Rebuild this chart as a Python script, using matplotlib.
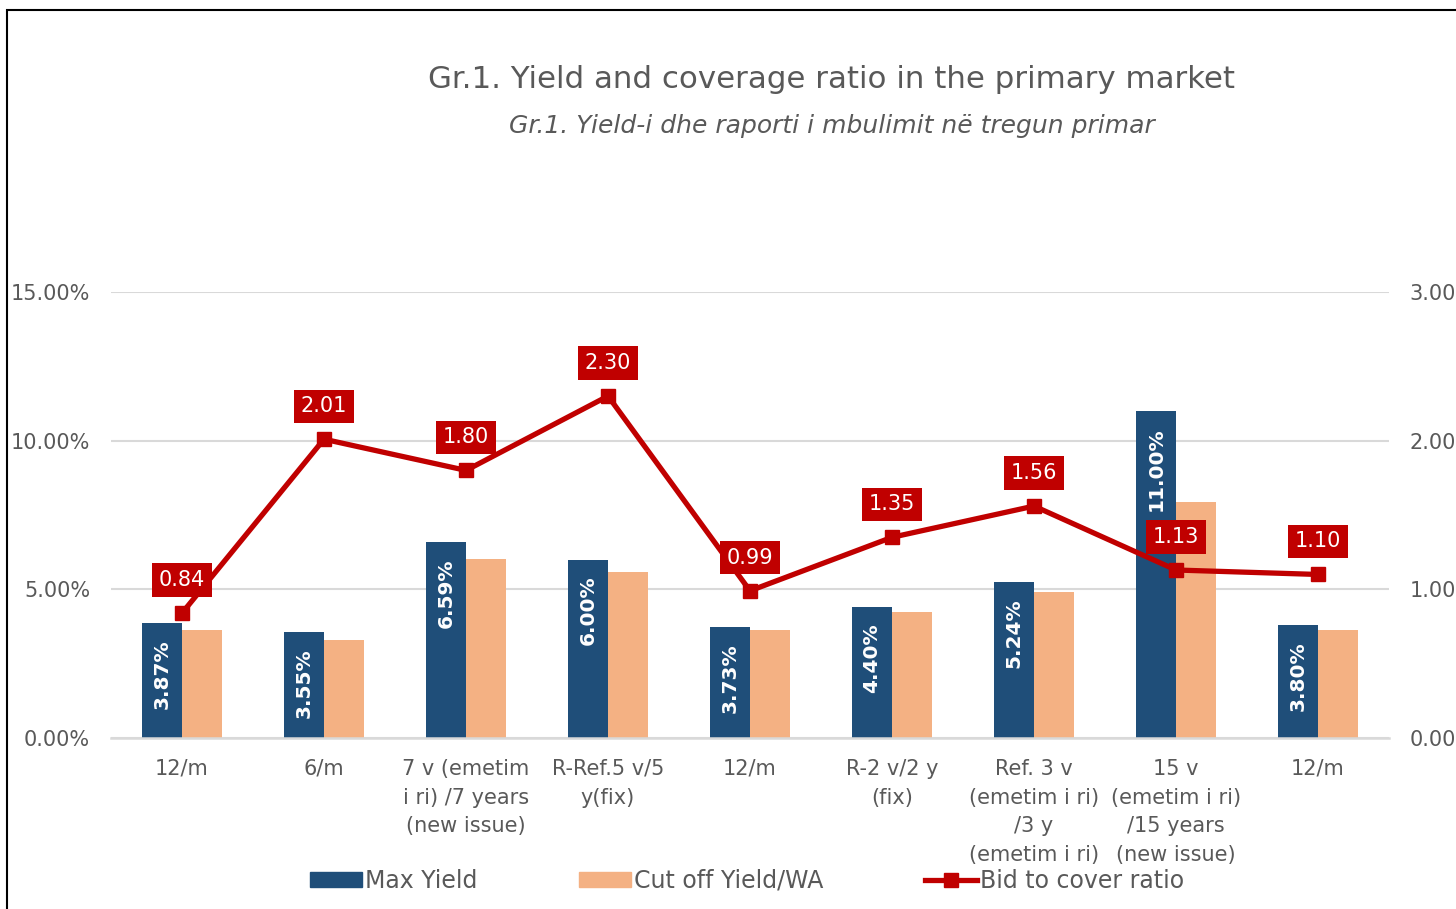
import numpy as np
import matplotlib
matplotlib.use('Agg')
import matplotlib.pyplot as plt
from matplotlib.patches import Rectangle, Patch
from matplotlib.lines import Line2D
from matplotlib.ticker import FuncFormatter

plt.rcParams['font.family'] = ['DejaVu Sans']

# data
categories = ['12/m', '6/m', '7 v (emetim\ni ri) /7 years\n(new issue)', 'R-Ref.5 v/5\ny(fix)',
              '12/m', 'R-2 v/2 y\n(fix)', 'Ref. 3 v\n(emetim i ri)\n/3 y\n(emetim i ri)',
              '15 v\n(emetim i ri)\n/15 years\n(new issue)', '12/m']
max_yield = [3.87, 3.55, 6.59, 6.00, 3.73, 4.40, 5.24, 11.00, 3.80]
cutoff_yield = [3.63, 3.30, 6.02, 5.58, 3.63, 4.24, 4.91, 7.94, 3.63]
bid_to_cover = [0.84, 2.01, 1.80, 2.30, 0.99, 1.35, 1.56, 1.13, 1.10]

blue = '#1F4E79'
orange = '#F4B183'
red = '#C00000'
gray = '#595959'

W, H = 1456, 909
fig = plt.figure(figsize=(W / 100, H / 100), dpi=100)
ax = fig.add_axes([111 / W, 1 - 738 / H, (1389 - 111) / W, (738 - 292) / H])

x = np.arange(len(categories))
w = 0.282
bars = ax.bar(x - w / 2, max_yield, w, color=blue, zorder=2)
ax.bar(x + w / 2, cutoff_yield, w, color=orange, zorder=2)

for b, v in zip(bars, max_yield):
    ax.annotate(f'{v:.2f}%', (b.get_x() + b.get_width() / 2, v), xytext=(0, -16),
                textcoords='offset pixels', rotation=90, ha='center', va='top',
                color='white', fontsize=14.5, fontweight='bold', zorder=3)

ax.set_xlim(-0.5, len(categories) - 0.5)
ax.set_ylim(0, 15)
ax.set_yticks([0, 5, 10, 15])
ax.yaxis.set_major_formatter(FuncFormatter(lambda v, p: f'{v:.2f}%'))
ax.grid(axis='y', color='#D9D9D9', lw=1.5, zorder=0)
ax.set_xticks(x)
ax.set_xticklabels(categories, linespacing=1.55)
for s in ['top', 'left', 'right']:
    ax.spines[s].set_visible(False)
ax.spines['bottom'].set_color('#D9D9D9')
ax.spines['bottom'].set_linewidth(1.8)
ax.tick_params(axis='both', length=0, colors=gray, labelsize=15)
ax.tick_params(axis='y', pad=15)
ax.tick_params(axis='x', pad=15)

ax2 = ax.twinx()
ax2.plot(x, bid_to_cover, color=red, lw=3.8, marker='s', markersize=10, zorder=4)
for i, v in enumerate(bid_to_cover):
    ax2.annotate(f'{v:.2f}', (i, v), xytext=(0, 33), textcoords='offset pixels',
                 ha='center', va='center', color='white', fontsize=15,
                 bbox=dict(boxstyle='square,pad=0.32', fc=red, ec='none'), zorder=5)
ax2.set_ylim(0, 3)
ax2.set_yticks([0, 1, 2, 3])
ax2.yaxis.set_major_formatter(FuncFormatter(lambda v, p: f'{v:.2f}'))
ax2.tick_params(axis='y', length=0, colors=gray, labelsize=15, pad=15)
for s in ax2.spines.values():
    s.set_visible(False)

fig.text(832 / W, 1 - 80 / H, 'Gr.1. Yield and coverage ratio in the primary market',
         ha='center', va='center', fontsize=22.2, color=gray)
fig.text(832 / W, 1 - 126 / H, 'Gr.1. Yield-i dhe raporti i mbulimit në tregun primar',
         ha='center', va='center', fontsize=18, color=gray, style='italic')

handles = [Patch(color=blue), Patch(color=orange),
           Line2D([], [], color=red, lw=3.8, marker='s', markersize=10)]
labels = ['Max Yield', 'Cut off Yield/WA', 'Bid to cover ratio']
fig.legend(handles, labels, loc='center', bbox_to_anchor=(747 / W, 1 - 881 / H), ncol=3,
           frameon=False, fontsize=17, labelcolor=gray, handlelength=2.2,
           handleheight=0.6, handletextpad=0.15, columnspacing=4.28)

fig.add_artist(Rectangle((7 / W, -0.1), 1.2, 1 - 10 / H + 0.1, transform=fig.transFigure,
                         fill=False, ec='black', lw=1.5))

fig.savefig('out.png', dpi=100)
